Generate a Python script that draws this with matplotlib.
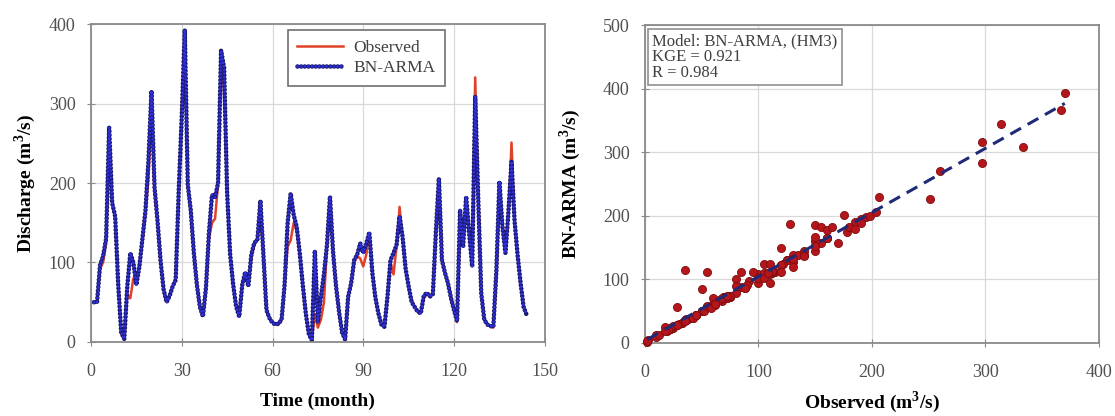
import numpy as np
import matplotlib
matplotlib.use('Agg')
import matplotlib.pyplot as plt
from matplotlib.legend_handler import HandlerTuple

plt.rcParams['font.family'] = ['Liberation Serif', 'DejaVu Serif']
plt.rcParams['mathtext.fontset'] = 'custom'
plt.rcParams['mathtext.rm'] = 'Liberation Serif'
plt.rcParams['mathtext.bf'] = 'Liberation Serif:bold'

# 月流量 (m3/s)，观测值与 BN-ARMA 模拟值
observed = [50, 50, 92, 100, 125, 260, 178, 155, 75, 10, 3, 60,
            55, 80, 72, 100, 125, 160, 206, 297, 190, 150, 100, 68,
            50, 58, 70, 80, 185, 297, 370, 195, 160, 115, 75, 45,
            33, 65, 130, 150, 155, 198, 367, 314, 190, 112, 70, 45,
            33, 70, 85, 72, 105, 122, 130, 160, 110, 42, 30, 25,
            22, 22, 28, 70, 120, 128, 150, 140, 110, 70, 35, 10,
            2, 35, 18, 28, 50, 120, 180, 112, 72, 36, 12, 2,
            55, 74, 100, 108, 105, 95, 110, 135, 88, 55, 36, 22,
            19, 58, 100, 85, 120, 170, 130, 90, 68, 52, 45, 38,
            36, 55, 60, 58, 62, 140, 204, 105, 88, 75, 58, 42,
            25, 150, 130, 165, 140, 110, 333, 185, 62, 28, 22, 20,
            18, 80, 175, 150, 120, 160, 251, 150, 108, 72, 45, 35]
bn_arma = [50, 50, 97, 108, 130, 270, 175, 158, 72, 12, 4, 70,
           112, 100, 72, 95, 130, 165, 229, 316, 195, 152, 102, 66,
           50, 58, 70, 78, 190, 283, 393, 198, 165, 112, 72, 44,
           32, 68, 138, 185, 182, 200, 367, 345, 188, 110, 72, 44,
           32, 72, 88, 70, 110, 125, 128, 178, 108, 40, 30, 24,
           22, 23, 28, 72, 150, 187, 160, 145, 112, 72, 36, 10,
           2, 115, 25, 57, 85, 122, 183, 114, 70, 38, 12, 3,
           57, 74, 103, 110, 124, 112, 124, 138, 87, 56, 36, 22,
           19, 57, 103, 112, 122, 158, 132, 92, 70, 50, 44, 38,
           36, 58, 62, 57, 60, 138, 206, 103, 87, 74, 55, 40,
           26, 166, 120, 183, 137, 95, 309, 180, 61, 28, 22, 20,
           19, 90, 202, 145, 112, 165, 227, 153, 110, 74, 44, 34]
months = np.arange(1, len(observed) + 1)

kge = 0.921
r_value = 0.984

fig = plt.figure(figsize=(11.15, 4.16), dpi=100)
ax1 = fig.add_axes([0.0816, 0.178, 0.407, 0.764])
ax2 = fig.add_axes([0.5785, 0.1755, 0.407, 0.764])

spine_c = '#8a8a8a'
grid_c = '#d9d9d9'
tick_c = '#505050'

def style_axes(ax):
    ax.grid(True, color=grid_c, linewidth=0.9)
    ax.set_axisbelow(True)
    for s in ax.spines.values():
        s.set_color(spine_c)
        s.set_linewidth(1.3)
    ax.tick_params(direction='inout', length=6, color=spine_c, labelsize=13,
                   labelcolor=tick_c)
    ax.tick_params(axis='x', pad=12)
    ax.tick_params(axis='y', pad=8)

# 左图：时间序列
style_axes(ax1)
l_obs, = ax1.plot(months, observed, color='#e0412a', linewidth=1.8)
# 点线：深色外圈 + 蓝色内点，周期相同
period = 2.6
l_dark, = ax1.plot(months, bn_arma, color='#1a1a6e', linewidth=3.3,
                   linestyle=(0, (0.01, period / 3.3)), dash_capstyle='round')
l_blue, = ax1.plot(months, bn_arma, color='#2f2fe0', linewidth=2.0,
                   linestyle=(0, (0.01, period / 2.0)), dash_capstyle='round')
ax1.set_xlim(0, 150)
ax1.set_ylim(0, 400)
ax1.set_xticks(np.arange(0, 151, 30))
ax1.set_yticks(np.arange(0, 401, 100))
ax1.set_xlabel('Time (month)', fontsize=14, fontweight='bold', labelpad=9)
ax1.set_ylabel('Discharge (m$^\\mathbf{3}$/s)', fontsize=14, fontweight='bold', labelpad=8)
leg = ax1.legend([l_obs, (l_dark, l_blue)], ['Observed', 'BN-ARMA'],
                 handler_map={tuple: HandlerTuple(ndivide=1)},
                 loc='upper left', bbox_to_anchor=(0.434, 0.981), borderaxespad=0,
                 fontsize=12.5, fancybox=False, edgecolor='#707070', framealpha=1,
                 handlelength=2.6, handletextpad=0.6, borderpad=0.55, labelspacing=0.25)
leg.get_frame().set_linewidth(1.2)
for t in leg.get_texts():
    t.set_color('#404040')

# 右图：散点图
style_axes(ax2)
ax2.scatter(observed, bn_arma, s=34, color='#b5161b', edgecolors='#7d0c0c',
            linewidths=0.6, zorder=3, clip_on=False)
coef = np.polyfit(observed, bn_arma, 1)
fit_x = np.array([min(observed), max(observed)])
ax2.plot(fit_x, np.polyval(coef, fit_x), color='#1f2a78', linewidth=2.2,
         linestyle=(0, (4, 2.5)), zorder=4)
ax2.set_xlim(0, 400)
ax2.set_ylim(0, 500)
ax2.set_xticks(np.arange(0, 401, 100))
ax2.set_yticks(np.arange(0, 501, 100))
ax2.set_xlabel('Observed (m$^\\mathbf{3}$/s)', fontsize=14, fontweight='bold', labelpad=6)
ax2.set_ylabel('BN-ARMA (m$^\\mathbf{3}$/s)', fontsize=14, fontweight='bold', labelpad=14)
ax2.text(0.016, 0.975, f'Model: BN-ARMA, (HM3)\nKGE = {kge:.3f}\nR = {r_value:.3f}',
         transform=ax2.transAxes, ha='left', va='top', fontsize=12, color='#404040',
         linespacing=1.0,
         bbox=dict(boxstyle='square,pad=0.25', facecolor='white', edgecolor='#909090',
                   linewidth=1.2))

fig.savefig('out.png', dpi=100)
